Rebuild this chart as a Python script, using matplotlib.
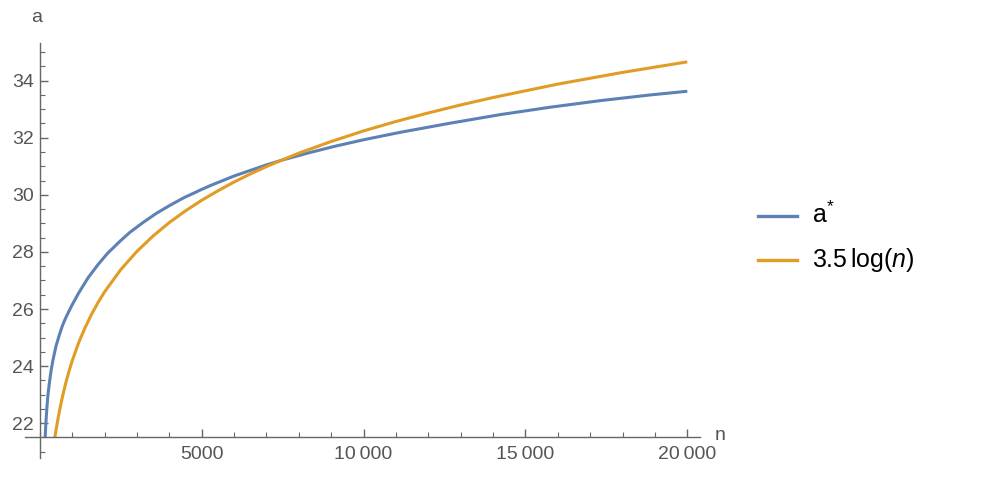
import matplotlib
matplotlib.use("Agg")
import matplotlib.pyplot as plt
from matplotlib.lines import Line2D
from matplotlib.ticker import MultipleLocator, FixedLocator

plt.rcParams['font.family'] = ['Liberation Sans', 'DejaVu Sans']
plt.rcParams['mathtext.fontset'] = 'custom'
plt.rcParams['mathtext.rm'] = 'Liberation Sans'
plt.rcParams['mathtext.it'] = 'Liberation Sans:italic'

# a* curve
n_astar = [165, 190, 220, 253, 300, 350, 408, 500, 600, 700, 800, 973, 1200,
           1489, 1800, 2100, 2500, 2786, 3200, 3611, 4000, 4433, 5000, 5258,
           6000, 7000, 7522, 8300, 9067, 10000, 11128, 12672, 14217, 15761,
           17306, 18851, 20000]
a_astar = [21.50, 22.05, 22.55, 23.00, 23.45, 23.85, 24.22, 24.70, 25.08, 25.42,
           25.69, 26.09, 26.56, 27.09, 27.56, 27.96, 28.40, 28.69, 29.04, 29.36,
           29.62, 29.89, 30.19, 30.32, 30.66, 31.05, 31.23, 31.47, 31.69, 31.93,
           32.19, 32.51, 32.81, 33.07, 33.30, 33.50, 33.63]

# 3.5 log(n) curve
n_log = [465, 500, 550, 600, 700, 800, 900, 1000, 1200, 1400, 1600, 1800, 2000,
         2500, 3000, 3500, 4000, 4500, 5000, 5500, 6000, 6500, 7000, 7500, 8000,
         9000, 10000, 11000, 12000, 13000, 14000, 16000, 18000, 20000]
a_log = [21.50, 21.75, 22.08, 22.39, 22.93, 23.40, 23.81, 24.18, 24.82, 25.35,
         25.82, 26.23, 26.60, 27.38, 28.02, 28.56, 29.03, 29.44, 29.81, 30.14,
         30.45, 30.73, 30.99, 31.23, 31.46, 31.87, 32.24, 32.57, 32.87, 33.15,
         33.41, 33.88, 34.29, 34.66]

series_labels = ['a$^{*}$', '3.5$\\,$log($n$)']
x_major = [5000, 10000, 15000, 20000]
x_major_labels = ['5000', '10\u2009000', '15\u2009000', '20\u2009000']
y_major = [22, 24, 26, 28, 30, 32, 34]

BLUE = '#5E81B5'
ORANGE = '#E19C24'
AXC = '#666666'
TXC = '#555555'

fig = plt.figure(figsize=(10, 4.8), dpi=100)
ax = fig.add_axes([0.025, 0.0458, 0.675, 0.8646])
ax.set_xlim(-457, 20392)
ax.set_ylim(20.78, 35.32)

ax.plot(n_astar, a_astar, color=BLUE, lw=2.2, solid_capstyle='butt')
ax.plot(n_log, a_log, color=ORANGE, lw=2.2, solid_capstyle='butt')

for s in ['top', 'right']:
    ax.spines[s].set_visible(False)
ax.spines['left'].set_position(('data', 0))
ax.spines['bottom'].set_position(('data', 21.5))
for s in ['left', 'bottom']:
    ax.spines[s].set_color(AXC)
    ax.spines[s].set_linewidth(1.0)

ax.xaxis.set_major_locator(FixedLocator(x_major))
ax.set_xticklabels(x_major_labels)
ax.xaxis.set_minor_locator(MultipleLocator(1000))
ax.yaxis.set_major_locator(FixedLocator(y_major))
ax.yaxis.set_minor_locator(MultipleLocator(0.5))

ax.tick_params(axis='both', which='major', direction='in', length=6, width=1,
               color=AXC, labelcolor=TXC, labelsize=14)
ax.tick_params(axis='both', which='minor', direction='in', length=3.5, width=0.8,
               color=AXC)
ax.tick_params(axis='x', which='major', pad=6)
ax.tick_params(axis='y', which='major', pad=4)

fig.text(0.037, 1 - 17 / 480, 'a', color=TXC, fontsize=14, ha='center', va='center')
fig.text(0.720, 1 - 436 / 480, 'n', color=TXC, fontsize=14, ha='center', va='center')

# legend
rows = [(216, BLUE, series_labels[0]), (260, ORANGE, series_labels[1])]
for ypx, col, lab in rows:
    yf = 1 - ypx / 480
    fig.add_artist(Line2D([0.758, 0.797], [yf, yf], color=col, lw=2.4,
                          transform=fig.transFigure))
    fig.text(0.812, 1 - (ypx + 7) / 480, lab, color='black', fontsize=18,
             ha='left', va='baseline')

fig.savefig('out.png', dpi=100)
